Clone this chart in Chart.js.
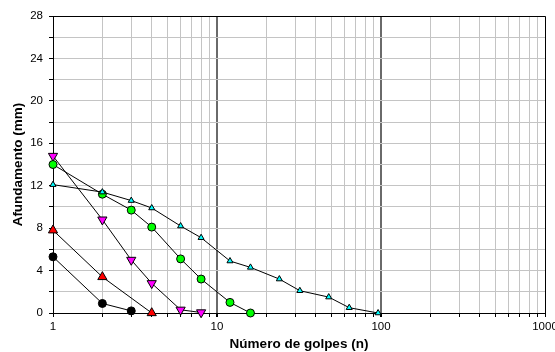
<!DOCTYPE html>
<html>
<head>
<meta charset="utf-8">
<script src="https://cdn.jsdelivr.net/npm/chart.js@4.4.1/dist/chart.umd.min.js"></script>
<style>
  html, body { margin: 0; padding: 0; background: #fff; }
</style>
</head>
<body>
<canvas id="penChart" width="555" height="352"></canvas>
<script>
// golpes (n) e afundamento (mm) de cada ensaio
var golpesPreto = [1, 2, 3];
var afundPreto = [5.3, 0.9, 0.2];

var golpesVermelho = [1, 2, 4];
var afundVermelho = [7.8, 3.4, 0];

var golpesMagenta = [1, 2, 3, 4, 6, 8];
var afundMagenta = [14.8, 8.8, 5.0, 2.8, 0.3, 0.05];

var golpesVerde = [1, 2, 3, 4, 6, 8, 12, 16];
var afundVerde = [14.0, 11.2, 9.7, 8.1, 5.1, 3.2, 1.0, 0];

var golpesCiano = [1, 2, 3, 4, 6, 8, 12, 16, 24, 32, 48, 64, 96];
var afundCiano = [12.1, 11.4, 10.6, 9.9, 8.2, 7.1, 4.9, 4.3, 3.2, 2.1, 1.5, 0.5, 0];

var xTicks = [1,2,3,4,5,6,7,8,9,10,20,30,40,50,60,70,80,90,100,200,300,400,500,600,700,800,900,1000];
var xLabels = [1, 10, 100, 1000];
var xMajor = [10, 100];

function pares(xs, ys) {
  return xs.map(function (x, i) { return { x: x, y: ys[i] }; });
}

function serie(xs, ys, cor, estilo, raio, rot) {
  return {
    data: pares(xs, ys),
    borderColor: '#000',
    borderWidth: 1,
    backgroundColor: cor,
    pointBackgroundColor: cor,
    pointBorderColor: '#000',
    pointBorderWidth: 1,
    pointStyle: estilo,
    pointRadius: raio,
    pointRotation: rot || 0,
    tension: 0,
    clip: false
  };
}

// moldura (topo e direita)
var moldura = {
  id: 'moldura',
  afterDraw: function (c) {
    var a = c.chartArea, ctx = c.ctx;
    ctx.save();
    ctx.strokeStyle = '#000';
    ctx.lineWidth = 1;
    ctx.beginPath();
    ctx.moveTo(Math.round(a.left) + 0.5, Math.round(a.top) + 0.5);
    ctx.lineTo(Math.round(a.right) + 0.5, Math.round(a.top) + 0.5);
    ctx.lineTo(Math.round(a.right) + 0.5, Math.round(a.bottom) + 0.5);
    ctx.stroke();
    ctx.restore();
  }
};

var chart = document.getElementById('penChart');

new Chart(chart, {
  type: 'line',
  data: {
    datasets: [
      serie(golpesCiano, afundCiano, '#00ffff', 'triangle', 3.5),
      serie(golpesVerde, afundVerde, '#00ff00', 'circle', 4),
      serie(golpesMagenta, afundMagenta, '#ff00ff', 'triangle', 5.3, 180),
      serie(golpesVermelho, afundVermelho, '#ff0000', 'triangle', 5.3),
      serie(golpesPreto, afundPreto, '#000000', 'circle', 4)
    ]
  },
  plugins: [moldura],
  options: {
    responsive: false,
    devicePixelRatio: 1,
    animation: false,
    layout: { padding: { left: 0, right: 10, top: 16, bottom: 0 } },
    plugins: {
      legend: { display: false },
      tooltip: { enabled: false }
    },
    scales: {
      x: {
        type: 'logarithmic',
        min: 1,
        max: 1000,
        afterBuildTicks: function (s) {
          s.ticks = xTicks.map(function (v) { return { value: v }; });
        },
        afterFit: function (s) {
          s.height = 39;
          s.paddingLeft = 0;
          s.paddingRight = 0;
        },
        ticks: {
          autoSkip: false,
          maxRotation: 0,
          color: '#000',
          padding: 3,
          font: { family: 'Liberation Sans, Arial', size: 11.5 },
          callback: function (v) {
            return xLabels.indexOf(v) >= 0 ? String(v) : '';
          }
        },
        grid: {
          color: function (ctx) {
            return ctx.tick && xMajor.indexOf(ctx.tick.value) >= 0 ? '#6a6a6a' : '#c4c4c4';
          },
          lineWidth: function (ctx) {
            return ctx.tick && xMajor.indexOf(ctx.tick.value) >= 0 ? 2 : 1;
          },
          tickLength: 4,
          tickColor: '#000'
        },
        border: { color: '#000', width: 1 },
        title: {
          display: true,
          text: 'Número de golpes (n)',
          color: '#000',
          padding: { top: 0, bottom: 0 },
          font: { family: 'Liberation Sans, Arial', size: 13.5, weight: 'bold' }
        }
      },
      y: {
        min: 0,
        max: 28,
        afterFit: function (s) {
          s.width = 53;
          s.paddingTop = 0;
          s.paddingBottom = 0;
        },
        ticks: {
          stepSize: 2,
          color: '#000',
          padding: 6,
          font: { family: 'Liberation Sans, Arial', size: 11.5 },
          callback: function (v) {
            return v % 4 === 0 ? String(v) : '';
          }
        },
        grid: {
          color: '#c4c4c4',
          lineWidth: 1,
          tickLength: 4,
          tickColor: '#000'
        },
        border: { color: '#000', width: 1 },
        title: {
          display: true,
          text: 'Afundamento (mm)',
          color: '#000',
          padding: { top: 10, bottom: 0 },
          font: { family: 'Liberation Sans, Arial', size: 13.5, weight: 'bold' }
        }
      }
    }
  }
});
</script>
</body>
</html>
